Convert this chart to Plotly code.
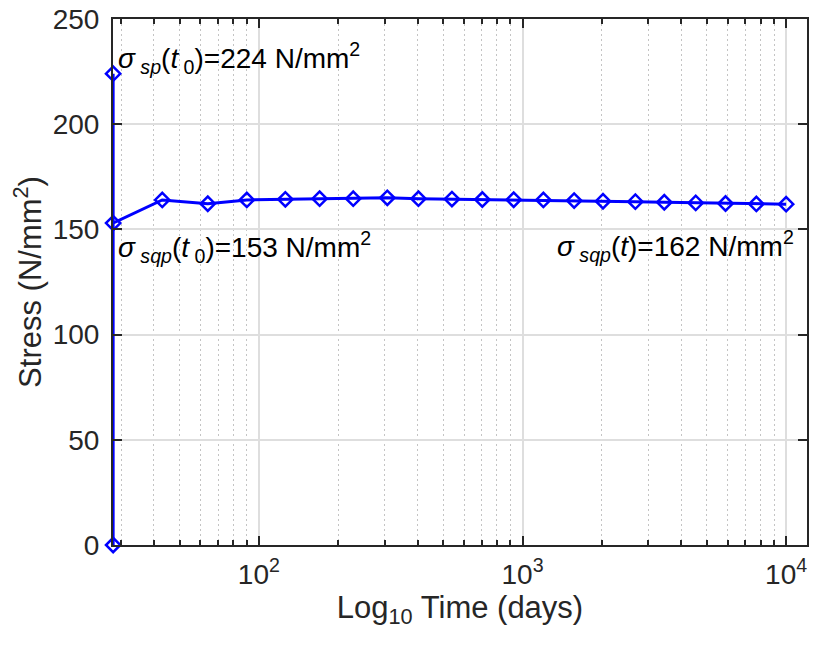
import numpy as np
import plotly.graph_objects as go

# Stress history at the reinforcement (days after casting, N/mm^2)
time_days = [28, 28, 28, 43, 64, 90, 126, 170, 228, 307, 403, 540, 704, 926,
             1200, 1570, 2020, 2680, 3450, 4540, 5890, 7710, 10000]
stress = [0, 224, 153, 164.0, 162.2, 164.0, 164.3, 164.6, 164.6, 165.0, 164.6,
          164.4, 164.2, 164.1, 164.0, 163.7, 163.4, 163.2, 162.9, 162.6, 162.3,
          162.1, 162.0]

x_range = [28, 12000]
y_range = [0, 250]
y_ticks = [0, 50, 100, 150, 200, 250]
x_major = [100, 1000, 10000]
x_major_text = ["10<sup>2</sup>", "10<sup>3</sup>", "10<sup>4</sup>"]
x_minor = [m * d for d in (10, 100, 1000) for m in range(2, 10)]
x_minor = [v for v in x_minor if x_range[0] <= v <= x_range[1]]

FONT = "Liberation Sans, Arial, sans-serif"
INK = "#262626"
BLUE = "#0000FF"
FS = 28        # tick labels and annotations
FS_TITLE = 31  # axis titles
NB = "\u00a0"

fig = go.Figure()
fig.add_trace(go.Scatter(
    x=time_days, y=stress, mode="lines+markers",
    line=dict(color=BLUE, width=3),
    marker=dict(symbol="diamond-open", size=11, color=BLUE,
                line=dict(width=2.5, color=BLUE)),
    cliponaxis=False, showlegend=False,
))

ann_font = dict(family=FONT, size=FS, color="#000000")
fig.add_annotation(
    x=np.log10(time_days[1]), y=stress[1], xref="x", yref="y",
    text=f"<i>σ</i><sub>{NB}<i>sp</i></sub>(<i>t</i><sub>{NB}0</sub>)=224 N/mm<sup>2</sup>",
    showarrow=False, xanchor="left", yanchor="middle", xshift=3, yshift=16,
    font=ann_font,
)
fig.add_annotation(
    x=np.log10(time_days[2]), y=stress[2], xref="x", yref="y",
    text=f"<i>σ</i><sub>{NB}<i>sqp</i></sub>(<i>t</i><sub>{NB}0</sub>)=153 N/mm<sup>2</sup>",
    showarrow=False, xanchor="left", yanchor="middle", xshift=3, yshift=-24,
    font=ann_font,
)
fig.add_annotation(
    x=np.log10(time_days[-1]), y=stress[-1], xref="x", yref="y",
    text=f"<i>σ</i><sub>{NB}<i>sqp</i></sub>(<i>t</i>)=162 N/mm<sup>2</sup>",
    showarrow=False, xanchor="right", yanchor="middle", xshift=10, yshift=-42,
    font=ann_font,
)

fig.update_layout(
    width=813, height=646,
    margin=dict(l=113, r=4, t=17, b=101, pad=0),
    paper_bgcolor="white", plot_bgcolor="white",
    font=dict(family=FONT, size=FS, color=INK),
)
fig.update_xaxes(
    type="log",
    range=[np.log10(x_range[0]) - 0.0005, np.log10(x_range[1])],
    tickmode="array", tickvals=x_major, ticktext=x_major_text,
    ticklabeloverflow="allow", ticklabelstandoff=3,
    ticks="inside", ticklen=9, tickwidth=2, tickcolor=INK,
    showline=True, linecolor=INK, linewidth=2, mirror="ticks",
    showgrid=True, gridcolor="#dedede", gridwidth=1.5,
    zeroline=False,
    minor=dict(tickmode="array", tickvals=x_minor, ticks="inside",
               ticklen=5, tickwidth=1.5, tickcolor=INK,
               showgrid=True, gridcolor="#c4c4c4", griddash="2px,3px",
               gridwidth=1),
    tickfont=dict(family=FONT, size=FS, color=INK),
    title=dict(text="Log<sub>10</sub> Time (days)", standoff=2,
               font=dict(family=FONT, size=FS_TITLE, color=INK)),
)
fig.update_yaxes(
    range=y_range, tickmode="array", tickvals=y_ticks,
    ticklabelstandoff=6,
    ticks="inside", ticklen=9, tickwidth=2, tickcolor=INK,
    showline=True, linecolor=INK, linewidth=2, mirror="ticks",
    showgrid=True, gridcolor="#dedede", gridwidth=1.5,
    zeroline=False,
    tickfont=dict(family=FONT, size=FS, color=INK),
    title=dict(text="Stress (N/mm<sup>2</sup>)", standoff=2,
               font=dict(family=FONT, size=FS_TITLE, color=INK)),
)

fig.write_html("out.html")
